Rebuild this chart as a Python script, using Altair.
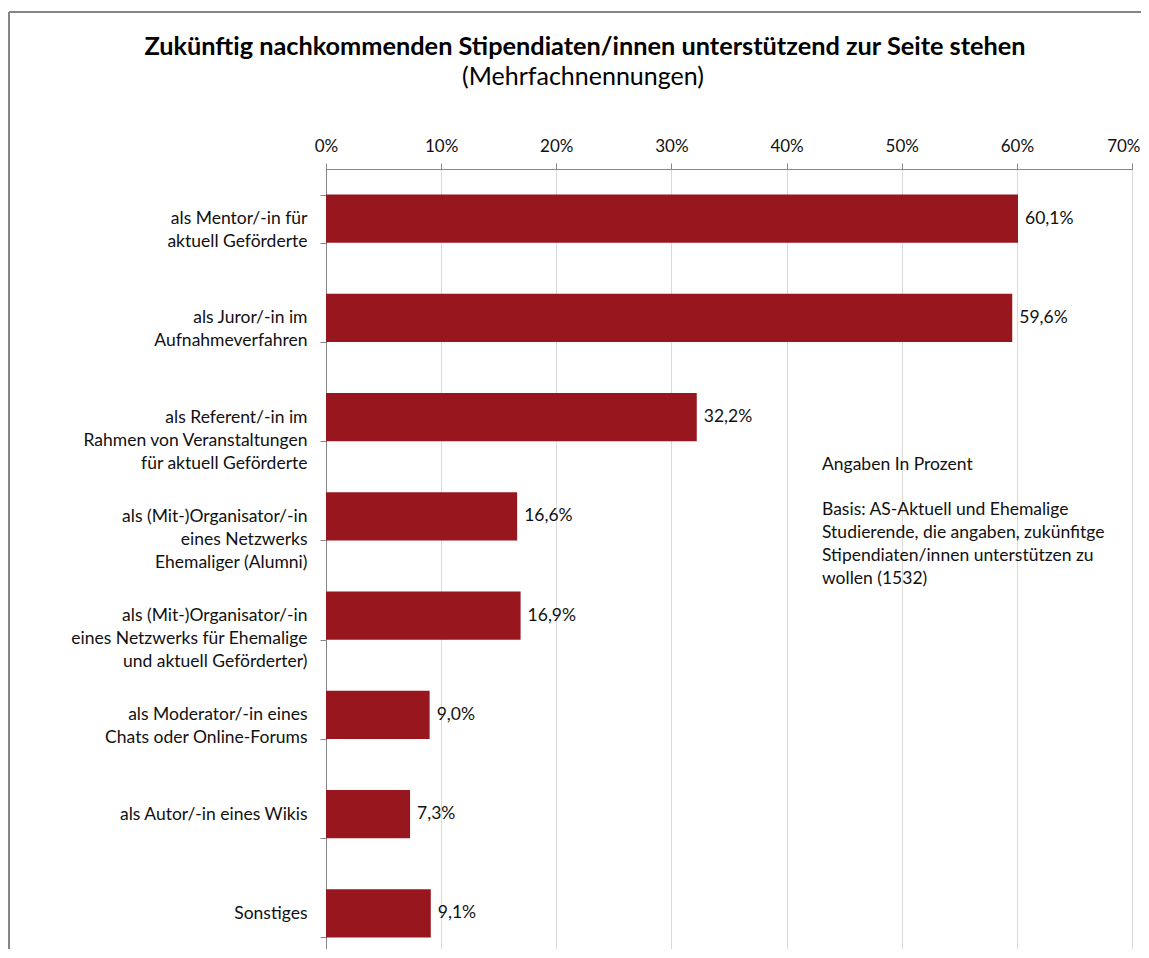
import altair as alt
import pandas as pd

categories = [
    "als Mentor/-in für\naktuell Geförderte",
    "als Juror/-in im\nAufnahmeverfahren",
    "als Referent/-in im\nRahmen von Veranstaltungen\nfür aktuell Geförderte",
    "als (Mit-)Organisator/-in\neines Netzwerks\nEhemaliger (Alumni)",
    "als (Mit-)Organisator/-in\neines Netzwerks für Ehemalige\nund aktuell Geförderter)",
    "als Moderator/-in eines\nChats oder Online-Forums",
    "als Autor/-in eines Wikis",
    "Sonstiges",
]
values = [60.1, 59.6, 32.2, 16.6, 16.9, 9.0, 7.3, 9.1]
x_ticks = [0, 10, 20, 30, 40, 50, 60, 70]

title_text = "Zukünftig nachkommenden Stipendiaten/innen unterstützend zur Seite stehen"
subtitle_text = "(Mehrfachnennungen)"
note_head = "Angaben In Prozent"
note_lines = [
    "Basis: AS-Aktuell und Ehemalige",
    "Studierende, die angaben, zukünfitge",
    "Stipendiaten/innen unterstützen zu",
    "wollen (1532)",
]

df = pd.DataFrame({"cat": categories, "val": values})
df["label"] = [f"{v:.1f}".replace(".", ",") + "%" for v in values]

FONT = "Lato"
BAR = "#98171F"
AXIS = "#868686"
GRID = "#D9D9D9"
TXT = "#111111"

W, H = 806, 780
BAND_RANGE = 794

y_enc = alt.Y(
    "cat:N",
    sort=categories,
    scale=alt.Scale(paddingInner=0.516, paddingOuter=0.258, range=[0, BAND_RANGE]),
    axis=alt.Axis(
        title=None,
        labelExpr="split(datum.label, '\\n')",
        labelFont=FONT,
        labelFontSize=17.5,
        labelColor=TXT,
        labelLineHeight=23,
        labelLimit=0,
        labelPadding=13,
        labelAlign="right",
        labelBaseline="middle",
        tickBand="extent",
        tickSize=6,
        tickColor=AXIS,
        domainColor=AXIS,
        grid=False,
    ),
)

x_enc = alt.X(
    "val:Q",
    scale=alt.Scale(domain=[0, 70], nice=False),
    axis=alt.Axis(
        orient="top",
        title=None,
        values=x_ticks,
        labelExpr="datum.value + '%'",
        labelFont=FONT,
        labelFontSize=17,
        labelColor=TXT,
        labelPadding=8,
        labelAlign={"condition": {"test": "datum.value == 70", "value": "right"}, "value": "center"},
        labelOffset={"condition": {"test": "datum.value == 70", "value": 8}, "value": 0},
        tickSize=6,
        tickColor=AXIS,
        domainColor=AXIS,
        grid=True,
        gridColor=GRID,
    ),
)

base = alt.Chart(df)

bars = base.mark_bar(color=BAR).encode(x=x_enc, y=y_enc)

labels = base.mark_text(
    align="left", baseline="middle", dx=7, font=FONT, fontSize=17.5, color=TXT
).encode(x="val:Q", y=alt.Y("cat:N", sort=categories), text="label:N")

title = alt.Chart(pd.DataFrame({"t": [title_text]})).mark_text(
    font=FONT, fontSize=25.3, fontWeight="bold", color="#000000", align="center", baseline="middle"
).encode(x=alt.value(259), y=alt.value(-122), text="t:N")

subtitle = alt.Chart(pd.DataFrame({"t": [subtitle_text]})).mark_text(
    font=FONT, fontSize=25, color="#000000", align="center", baseline="middle"
).encode(x=alt.value(257), y=alt.value(-92), text="t:N")

note1 = alt.Chart(pd.DataFrame({"t": [note_head]})).mark_text(
    font=FONT, fontSize=17.5, color=TXT, align="left", baseline="top"
).encode(x=alt.value(496), y=alt.value(287), text="t:N")

note2 = alt.Chart(pd.DataFrame({"t": ["\n".join(note_lines)]})).mark_text(
    font=FONT, fontSize=17.5, color=TXT, align="left", baseline="top", lineHeight=23
).transform_calculate(tt="split(datum.t, '\\n')").encode(
    x=alt.value(496), y=alt.value(332), text="tt:N"
)

frame_top = alt.Chart(pd.DataFrame({"a": [0]})).mark_rule(color="#858585", strokeWidth=2).encode(
    x=alt.value(-317), x2=alt.value(W + 20), y=alt.value(-157)
)
frame_left = alt.Chart(pd.DataFrame({"a": [0]})).mark_rule(color="#858585", strokeWidth=2).encode(
    x=alt.value(-317), y=alt.value(-157), y2=alt.value(H + 10)
)

chart = alt.layer(bars, labels, title, subtitle, note1, note2, frame_top, frame_left).properties(
    width=W,
    height=H,
    autosize=alt.AutoSizeParams(type="none"),
    padding={"left": 318, "top": 161, "right": 9, "bottom": 0},
).configure_view(stroke=None).configure(background="white")

chart.save("out.html", embed_options={"renderer": "svg", "actions": False})
